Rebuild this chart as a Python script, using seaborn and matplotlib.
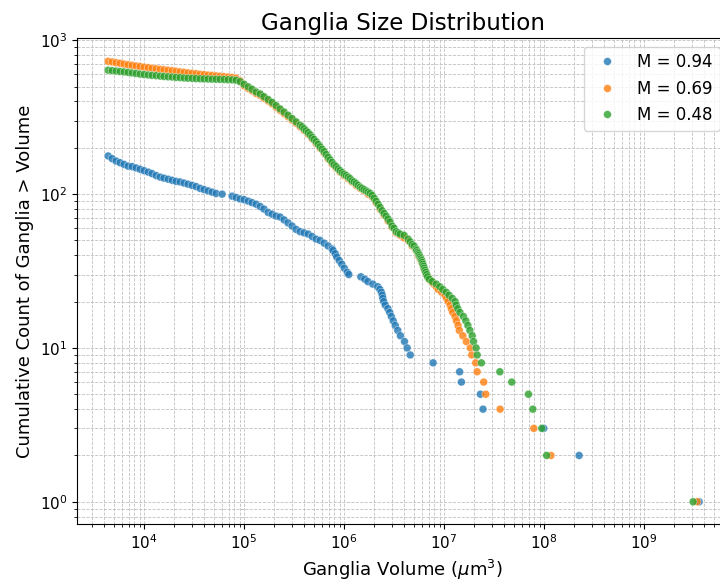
import matplotlib
matplotlib.use("Agg")
import matplotlib.pyplot as plt
import pandas as pd
import seaborn as sns

# Cumulative counts of ganglia larger than a given volume, one series per M value
series_labels = ["M = 0.94", "M = 0.69", "M = 0.48"]
series_colors = ["#1f77b4", "#ff7f0e", "#2ca02c"]

vol_094 = [
    4.37e3, 4.79e3, 5.25e3, 5.75e3, 6.31e3, 6.92e3, 7.59e3, 8.32e3, 9.12e3, 1.00e4,
    1.10e4, 1.20e4, 1.32e4, 1.45e4, 1.58e4, 1.74e4, 1.91e4, 2.09e4, 2.29e4, 2.51e4,
    2.75e4, 3.02e4, 3.31e4, 3.63e4, 3.98e4, 4.37e4, 4.79e4, 5.25e4, 6.03e4,
    7.59e4, 8.32e4, 9.12e4, 1.00e5, 1.10e5, 1.20e5, 1.32e5, 1.45e5, 1.58e5, 1.74e5,
    1.91e5, 2.09e5, 2.29e5, 2.51e5, 2.75e5, 3.02e5, 3.31e5, 3.63e5, 3.98e5, 4.37e5,
    4.79e5, 5.25e5, 5.75e5, 6.31e5, 6.92e5, 7.59e5,
    7.74e5, 8.17e5, 8.45e5, 8.95e5, 9.48e5, 1.005e6, 1.076e6, 1.114e6,
    1.47e6, 1.61e6, 1.73e6, 1.94e6, 2.17e6, 2.28e6, 2.36e6, 2.41e6, 2.44e6, 2.49e6,
    2.58e6, 2.74e6, 2.86e6, 2.97e6, 3.10e6, 3.25e6, 3.44e6, 3.66e6, 4.02e6, 4.27e6,
    4.59e6, 7.76e6, 1.43e7, 1.49e7, 2.31e7, 2.45e7, 9.93e7, 2.24e8, 3.55e9,
]
cnt_094 = [
    177, 170, 164, 160, 156, 152, 151, 148, 145, 142,
    139, 136, 132, 129, 127, 125, 123, 121, 120, 118,
    116, 114, 112, 109, 107, 105, 103, 101, 100,
    97, 95, 93, 92, 90, 88, 86, 83, 80, 76,
    74, 72, 71, 68, 65, 62, 59, 57, 56, 55,
    53, 51, 50, 48, 46, 44,
    43, 41, 39, 37, 35, 33, 31, 30,
    29, 28, 27, 26, 25, 24, 23, 22, 21, 20,
    19, 18, 17, 16, 15, 14, 13, 12, 11, 10,
    9, 8, 7, 6, 5, 4, 3, 2, 1,
]

vol_069 = [
    4.37e3, 4.79e3, 5.25e3, 5.75e3, 6.31e3, 6.92e3, 7.59e3, 8.32e3, 9.12e3, 1.00e4,
    1.10e4, 1.20e4, 1.32e4, 1.45e4, 1.58e4, 1.74e4, 1.91e4, 2.09e4, 2.29e4, 2.51e4,
    2.75e4, 3.02e4, 3.31e4, 3.63e4, 3.98e4, 4.37e4, 4.79e4, 5.25e4, 5.75e4, 6.31e4,
    6.92e4, 7.59e4, 8.32e4, 9.12e4,
    1.00e5, 1.10e5, 1.20e5, 1.32e5, 1.45e5, 1.58e5, 1.74e5, 1.91e5, 2.09e5, 2.29e5,
    2.51e5, 2.75e5, 3.02e5, 3.31e5, 3.63e5, 3.98e5, 4.37e5, 4.79e5, 5.25e5, 5.75e5,
    6.31e5, 6.92e5, 7.59e5, 8.32e5, 9.12e5, 1.00e6, 1.10e6, 1.20e6, 1.32e6, 1.45e6,
    1.58e6, 1.74e6, 1.91e6, 2.09e6, 2.29e6, 2.51e6, 2.75e6, 3.02e6, 3.31e6, 3.63e6,
    3.98e6, 4.37e6, 4.79e6, 5.25e6, 5.52e6, 5.75e6, 5.96e6, 6.12e6, 6.21e6, 6.31e6,
    6.38e6, 6.53e6, 6.68e6, 6.87e6, 7.11e6, 7.45e6, 7.89e6, 8.36e6, 8.75e6, 9.48e6,
    1.02e7, 1.06e7, 1.10e7, 1.15e7, 1.18e7, 1.22e7, 1.29e7, 1.33e7, 1.38e7, 1.42e7,
    1.54e7, 1.67e7, 1.83e7, 1.89e7, 2.07e7, 2.14e7, 2.49e7, 2.61e7, 3.63e7, 7.89e7,
    1.17e8, 3.39e9,
]
cnt_069 = [
    730, 723, 715, 709, 701, 693, 687, 681, 675, 669,
    664, 658, 653, 648, 643, 639, 634, 629, 623, 619,
    614, 610, 606, 601, 598, 594, 591, 587, 584, 580,
    577, 573, 567, 546,
    506, 486, 470, 451, 438, 420, 403, 386, 367, 350,
    334, 319, 303, 289, 274, 260, 245, 229, 214, 199,
    185, 170, 157, 148, 139, 132, 126, 120, 114, 109,
    105, 100, 96, 88, 80, 73, 67, 61, 56, 54,
    52, 50, 46, 43, 40, 38, 36, 35, 34, 33,
    32, 31, 30, 29, 28, 27, 26, 25, 24, 23,
    22, 21, 20, 19, 18, 17, 16, 15, 14, 13,
    12, 11, 10, 9, 8, 7, 6, 5, 4, 3,
    2, 1,
]

vol_048 = [
    4.37e3, 4.79e3, 5.25e3, 5.75e3, 6.31e3, 6.92e3, 7.59e3, 8.32e3, 9.12e3, 1.00e4,
    1.10e4, 1.20e4, 1.32e4, 1.45e4, 1.58e4, 1.74e4, 1.91e4, 2.09e4, 2.29e4, 2.51e4,
    2.75e4, 3.02e4, 3.31e4, 3.63e4, 3.98e4, 4.37e4, 4.79e4, 5.25e4, 5.75e4, 6.31e4,
    6.92e4, 7.59e4, 8.32e4, 9.12e4,
    1.00e5, 1.10e5, 1.20e5, 1.32e5, 1.45e5, 1.58e5, 1.74e5, 1.91e5, 2.09e5, 2.29e5,
    2.51e5, 2.75e5, 3.02e5, 3.31e5,
    3.63e5, 3.80e5, 3.98e5, 4.17e5, 4.37e5, 4.57e5, 4.79e5, 5.01e5, 5.25e5, 5.50e5,
    5.75e5, 6.03e5, 6.31e5, 6.61e5, 6.92e5, 7.24e5, 7.59e5, 7.94e5, 8.32e5, 8.71e5,
    9.12e5, 9.55e5, 1.00e6, 1.05e6, 1.10e6, 1.15e6, 1.20e6, 1.26e6, 1.32e6, 1.38e6,
    1.45e6, 1.51e6, 1.58e6, 1.66e6, 1.74e6, 1.82e6, 1.91e6, 2.00e6, 2.09e6, 2.19e6,
    2.29e6, 2.40e6, 2.51e6, 2.63e6, 2.75e6, 2.88e6, 3.02e6, 3.16e6, 3.31e6, 3.47e6,
    3.63e6, 3.98e6, 4.37e6, 4.57e6, 4.79e6, 5.01e6, 5.25e6,
    5.32e6, 5.45e6, 5.55e6, 5.64e6, 5.75e6, 5.87e6, 5.97e6, 6.05e6, 6.14e6, 6.24e6,
    6.32e6, 6.43e6, 6.56e6, 6.70e6, 6.84e6, 7.11e6, 7.62e6, 8.36e6, 9.06e6, 9.70e6,
    1.05e7, 1.12e7, 1.21e7, 1.29e7, 1.32e7, 1.37e7, 1.44e7, 1.56e7, 1.65e7, 1.73e7,
    1.81e7, 1.91e7, 1.97e7, 2.09e7, 2.14e7, 2.36e7, 3.61e7, 4.75e7, 6.98e7, 7.71e7,
    9.48e7, 1.06e8, 3.09e9,
]
cnt_048 = [
    639, 635, 631, 627, 623, 619, 613, 609, 603, 599,
    595, 592, 589, 585, 582, 579, 577, 574, 572, 569,
    567, 566, 564, 562, 561, 560, 559, 558, 557, 556,
    554, 553, 550, 538,
    518, 498, 481, 461, 448, 430, 412, 395, 376, 358,
    342, 326, 310, 295,
    281, 274, 266, 258, 251, 243, 234, 227, 219, 211,
    203, 196, 189, 181, 174, 167, 161, 155, 151, 146,
    142, 138, 135, 132, 129, 126, 122, 120, 117, 114,
    111, 109, 107, 105, 103, 101, 98, 94, 90, 86,
    82, 78, 75, 72, 69, 66, 62, 60, 57, 56,
    55, 54, 51, 49, 47, 46, 44,
    43, 42, 41, 40, 39, 38, 37, 36, 35, 34,
    33, 32, 31, 30, 29, 28, 27, 26, 25, 24,
    23, 22, 21, 20, 19, 18, 17, 16, 15, 14,
    13, 12, 11, 10, 9, 8, 7, 6, 5, 4,
    3, 2, 1,
]

frames = []
for label, vols, cnts in zip(series_labels,
                             [vol_094, vol_069, vol_048],
                             [cnt_094, cnt_069, cnt_048]):
    frames.append(pd.DataFrame({"volume": vols, "count": cnts, "series": label}))
df = pd.concat(frames, ignore_index=True)

fig = plt.figure(figsize=(7.2, 5.83), dpi=100)
ax = fig.add_axes([0.1074, 0.1017, 0.9037, 0.8326])
ax.set_xscale("log")
ax.set_yscale("log")

sns.scatterplot(data=df, x="volume", y="count", hue="series",
                hue_order=series_labels, palette=series_colors,
                s=32, alpha=0.8, edgecolor="white", linewidth=0.3, ax=ax)

ax.set_xlim(2.15e3, 6.9e9)
ax.set_ylim(0.72, 1030)
ax.grid(True, which="both", linestyle="--", linewidth=0.6, color="#c0c0c0")
ax.set_axisbelow(True)

ax.set_title("Ganglia Size Distribution", fontsize=16.6)
ax.set_xlabel(r"Ganglia Volume ($\mu$m$^3$)", fontsize=13)
ax.set_ylabel("Cumulative Count of Ganglia > Volume", fontsize=13)
ax.tick_params(labelsize=11)

handles, labels = ax.get_legend_handles_labels()
ax.legend(handles, labels, loc="upper right", fontsize=12)

fig.savefig("out.png", dpi=100)
